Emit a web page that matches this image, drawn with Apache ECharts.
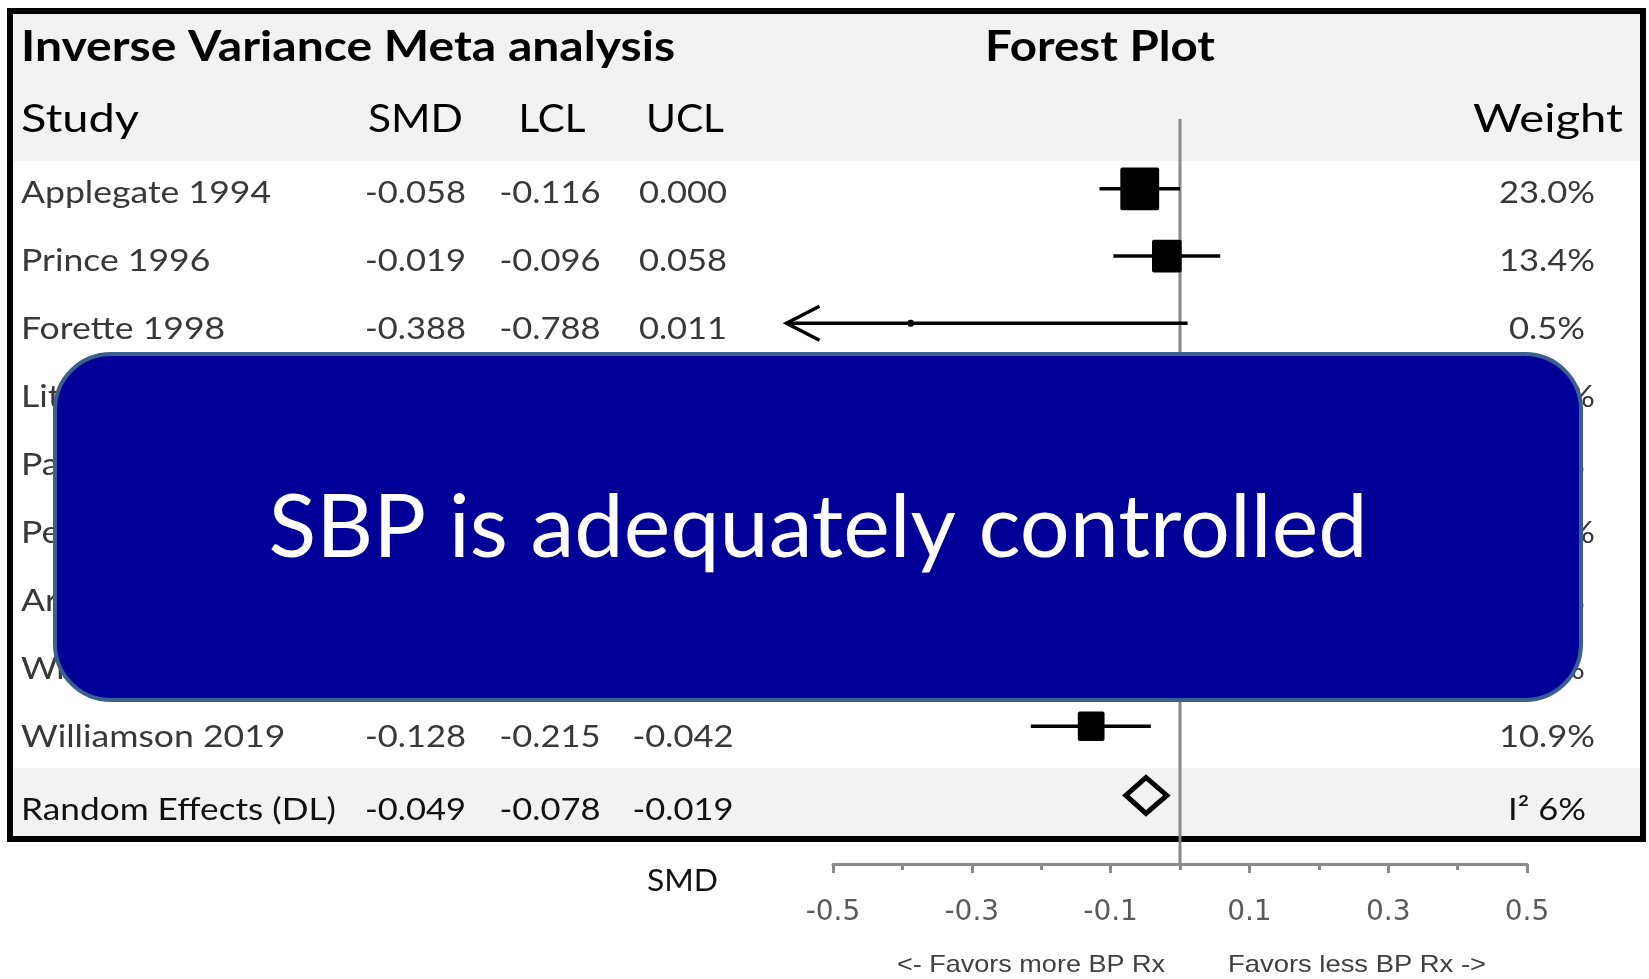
<!DOCTYPE html>
<html><head><meta charset="utf-8">
<script src="https://cdn.jsdelivr.net/npm/echarts@6/dist/echarts.min.js"></script>
<style>html,body{margin:0;padding:0;background:#fff;overflow:hidden}#c{width:1649px;height:979px}</style>
</head><body><div id="c"></div>
<script>
// ---------------- data ----------------
const titleLeft = 'Inverse Variance Meta analysis';
const titleRight = 'Forest Plot';
const columnHeaders = ['Study', 'SMD', 'LCL', 'UCL', 'Weight'];
const studyNames = ['Applegate 1994', 'Prince 1996', 'Forette 1998', 'Lithell 2003', 'Pantoni 2005', 'Peters 2008', 'Arima 2013', 'Wright 2016', 'Williamson 2019'];
const smdValues = [-0.058, -0.019, -0.388, null, null, null, null, null, -0.128];
const lclValues = [-0.116, -0.096, -0.788, null, null, null, null, null, -0.215];
const uclValues = [0.000, 0.058, 0.011, null, null, null, null, null, -0.042];
const weightValues = [23.0, 13.4, 0.5, 13.6, 3.9, 20.3, 8.6, 5.8, 10.9];
const pooledLabel = 'Random Effects (DL)';
const pooledSmd = -0.049;
const pooledLcl = -0.078;
const pooledUcl = -0.019;
const heterogeneityLabel = 'I\u00B2 6%';
const axisName = 'SMD';
const axisMajorTicks = [-0.5, -0.3, -0.1, 0.1, 0.3, 0.5];
const axisMinorTicks = [-0.4, -0.2, 0, 0.2, 0.4];
const favorsLeft = '<- Favors more BP Rx';
const favorsRight = 'Favors less BP Rx ->';
const overlayText = 'SBP is adequately controlled';

// ---------------- layout ----------------
const FONT = 'Lato, "Open Sans", sans-serif';
const AXFONT = '"DejaVu Sans", sans-serif';
const NARROW = '"Liberation Sans Narrow", "Liberation Sans", sans-serif';
const GRID = { left: 833, right: 122, top: 119, bottom: 115 };
const Y_MIN = -1.04, Y_MAX = 10.05;         // marker rows
const T_MIN = -1.085, T_MAX = 9.871;        // table text rows
const COL = { name: 21, smd: 415.5, lcl: 550, ucl: 683, weight: 1547 };
const ARROW_LIMIT = -0.567;
const ROW_FONT = 31, HEAD_FONT = 38, TITLE_FONT = 42.5;

const _ctx = document.createElement('canvas').getContext('2d');
function measure(text, font) { _ctx.font = font; return _ctx.measureText(text).width; }
function sx(text, font, target) { return target / measure(text, font); }

const rowFont = ROW_FONT + 'px ' + FONT;
const headFont = HEAD_FONT + 'px ' + FONT;
const titleFont = 'bold ' + TITLE_FONT + 'px ' + FONT;
const favFont = '24px ' + NARROW;
const SX = {
  name: sx('Applegate 1994', rowFont, 250),
  pooled: sx(pooledLabel, rowFont, 315),
  val: sx('-0.058', rowFont, 101),
  weight: sx('23.0%', rowFont, 96)
};

function txt(x, y, text, font, fill, align, scale, z) {
  return {
    type: 'text', x: x, y: y, scaleX: scale || 1, z: z || 10,
    style: { text: text, x: 0, y: 0, font: font, fill: fill,
      align: align, textAlign: align, verticalAlign: 'middle', textVerticalAlign: 'middle' }
  };
}

// ---------------- series data ----------------
const studyData = [];
studyNames.forEach(function (n, i) {
  if (smdValues[i] !== null) studyData.push([smdValues[i], i, lclValues[i], uclValues[i], weightValues[i]]);
});
const tableRows = studyNames.map(function (n, i) {
  return [0, i, n,
    smdValues[i] === null ? '' : smdValues[i].toFixed(3),
    lclValues[i] === null ? '' : lclValues[i].toFixed(3),
    uclValues[i] === null ? '' : uclValues[i].toFixed(3),
    weightValues[i].toFixed(1) + '%', 0];
});
tableRows.push([0, studyNames.length, pooledLabel, pooledSmd.toFixed(3), pooledLcl.toFixed(3), pooledUcl.toFixed(3), heterogeneityLabel, 1]);

function renderStudy(params, api) {
  const smd = api.value(0), row = api.value(1), lo = api.value(2), hi = api.value(3), w = api.value(4);
  const c = api.coord([smd, row]);
  const y = c[1];
  const clipped = lo < ARROW_LIMIT;
  const xl = api.coord([clipped ? ARROW_LIMIT : lo, row])[0];
  const xh = api.coord([hi, row])[0];
  const children = [{ type: 'line', shape: { x1: xl, y1: y, x2: xh, y2: y }, style: { stroke: '#000', lineWidth: 3.5 } }];
  if (clipped) {
    children.push({ type: 'polyline', shape: { points: [[xl + 33, y - 17], [xl, y], [xl + 33, y + 17]] },
      style: { stroke: '#000', lineWidth: 3.5, fill: null } });
  }
  const sw = 8.1 * Math.sqrt(w), sh = sw * 1.07 + 1;
  children.push({ type: 'rect', shape: { x: c[0] - sw / 2, y: y - sh / 2, width: sw, height: sh, r: 2 }, style: { fill: '#000' } });
  return { type: 'group', children: children };
}

function renderPooled(params, api) {
  const row = api.value(1);
  const c = api.coord([api.value(0), row]);
  const xl = api.coord([api.value(2), row])[0];
  const xh = api.coord([api.value(3), row])[0];
  const y = c[1] + 2, h = 18;
  return { type: 'polygon', shape: { points: [[xl, y], [c[0], y - h], [xh, y], [c[0], y + h]] },
    style: { fill: null, stroke: '#000', lineWidth: 5, lineJoin: 'miter' } };
}

function renderTable(params, api) {
  const d = tableRows[params.dataIndex];
  const pooled = d[7] === 1;
  const y = api.coord([0, d[1]])[1] + (pooled ? 5 : 0);
  const col = pooled ? '#111' : '#383838';
  return { type: 'group', children: [
    txt(COL.name, y, d[2], rowFont, col, 'left', pooled ? SX.pooled : SX.name),
    txt(COL.smd, y, d[3], rowFont, col, 'center', SX.val),
    txt(COL.lcl, y, d[4], rowFont, col, 'center', SX.val),
    txt(COL.ucl, y, d[5], rowFont, col, 'center', SX.val),
    txt(COL.weight, y, d[6], rowFont, col, 'center', SX.weight)
  ] };
}

// ---------------- graphic ----------------
const headY = 120, titleY = 47;
const graphics = [
  { type: 'rect', z: -5, shape: { x: 13, y: 14, width: 1627, height: 147 }, style: { fill: '#f2f2f2' } },
  { type: 'rect', z: -5, shape: { x: 13, y: 768, width: 1627, height: 68 }, style: { fill: '#f2f2f2' } },
  { type: 'rect', z: 1, shape: { x: 10, y: 11, width: 1633, height: 828 }, style: { fill: null, stroke: '#000', lineWidth: 6 } },
  txt(21, titleY, titleLeft, titleFont, '#000', 'left', sx(titleLeft, titleFont, 654)),
  txt(1100, titleY, titleRight, titleFont, '#000', 'center', sx(titleRight, titleFont, 230)),
  txt(21, headY, columnHeaders[0], headFont, '#000', 'left', sx(columnHeaders[0], headFont, 118)),
  txt(415.5, headY, columnHeaders[1], headFont, '#000', 'center', sx(columnHeaders[1], headFont, 95)),
  txt(552, headY, columnHeaders[2], headFont, '#000', 'center', sx(columnHeaders[2], headFont, 67)),
  txt(685, headY, columnHeaders[3], headFont, '#000', 'center', sx(columnHeaders[3], headFont, 78)),
  txt(1548, headY, columnHeaders[4], headFont, '#000', 'center', sx(columnHeaders[4], headFont, 150)),
  txt(682.5, 881, axisName, '30px ' + FONT, '#111', 'center', sx(axisName, '30px ' + FONT, 71)),
  txt(1031, 965, favorsLeft, favFont, '#404040', 'center', sx(favorsLeft, favFont, 268)),
  txt(1357, 965, favorsRight, favFont, '#404040', 'center', sx(favorsRight, favFont, 258)),
  { type: 'rect', z: 100, shape: { x: 55, y: 354, width: 1526, height: 346, r: 56 },
    style: { fill: '#000099', stroke: '#3b5f8f', lineWidth: 4 } },
  txt(818, 529, overlayText, '88px ' + FONT, '#fff', 'center', sx(overlayText, '88px ' + FONT, 1099), 101)
];

// ---------------- chart ----------------
const chart = echarts.init(document.getElementById('c'), null, { renderer: 'canvas' });
chart.setOption({
  animation: false,
  backgroundColor: '#fff',
  grid: { left: GRID.left, right: GRID.right, top: GRID.top, bottom: GRID.bottom, containLabel: false },
  xAxis: [
    { type: 'value', min: -0.5, max: 0.5, position: 'bottom',
      axisLine: { show: true, onZero: false, lineStyle: { color: '#8a8a8a', width: 3 } },
      axisTick: { show: true, customValues: axisMajorTicks, length: 9, inside: false, lineStyle: { color: '#8a8a8a', width: 3 } },
      axisLabel: { show: true, customValues: axisMajorTicks, margin: 35, color: '#5a5a5a', fontSize: 28, fontFamily: AXFONT,
        formatter: function (v) { return v.toFixed(1); } },
      splitLine: { show: false } },
    { type: 'value', min: -0.5, max: 0.5, position: 'bottom', gridIndex: 0,
      axisLine: { show: false, onZero: false },
      axisTick: { show: true, customValues: axisMinorTicks, length: 6, lineStyle: { color: '#8a8a8a', width: 3 } },
      axisLabel: { show: false }, splitLine: { show: false } }
  ],
  yAxis: [
    { type: 'value', inverse: true, min: Y_MIN, max: Y_MAX, show: false, splitLine: { show: false } },
    { type: 'value', inverse: true, min: T_MIN, max: T_MAX, show: false, splitLine: { show: false } }
  ],
  graphic: { elements: graphics },
  series: [
    { type: 'line', name: 'zero', xAxisIndex: 0, yAxisIndex: 0, z: 2, symbol: 'none', silent: true,
      data: [[0, Y_MIN], [0, Y_MAX]], lineStyle: { color: '#888', width: 3 } },
    { type: 'custom', name: 'studies', xAxisIndex: 0, yAxisIndex: 0, z: 3, renderItem: renderStudy,
      data: studyData, encode: { x: 0, y: 1 }, clip: false },
    { type: 'custom', name: 'pooled', xAxisIndex: 0, yAxisIndex: 0, z: 3, renderItem: renderPooled,
      data: [[pooledSmd, studyNames.length, pooledLcl, pooledUcl]], encode: { x: 0, y: 1 }, clip: false },
    { type: 'custom', name: 'table', xAxisIndex: 0, yAxisIndex: 1, z: 4, renderItem: renderTable,
      data: tableRows.map(function (r) { return [r[0], r[1]]; }), encode: { x: 0, y: 1 }, clip: false }
  ]
});
</script></body></html>
